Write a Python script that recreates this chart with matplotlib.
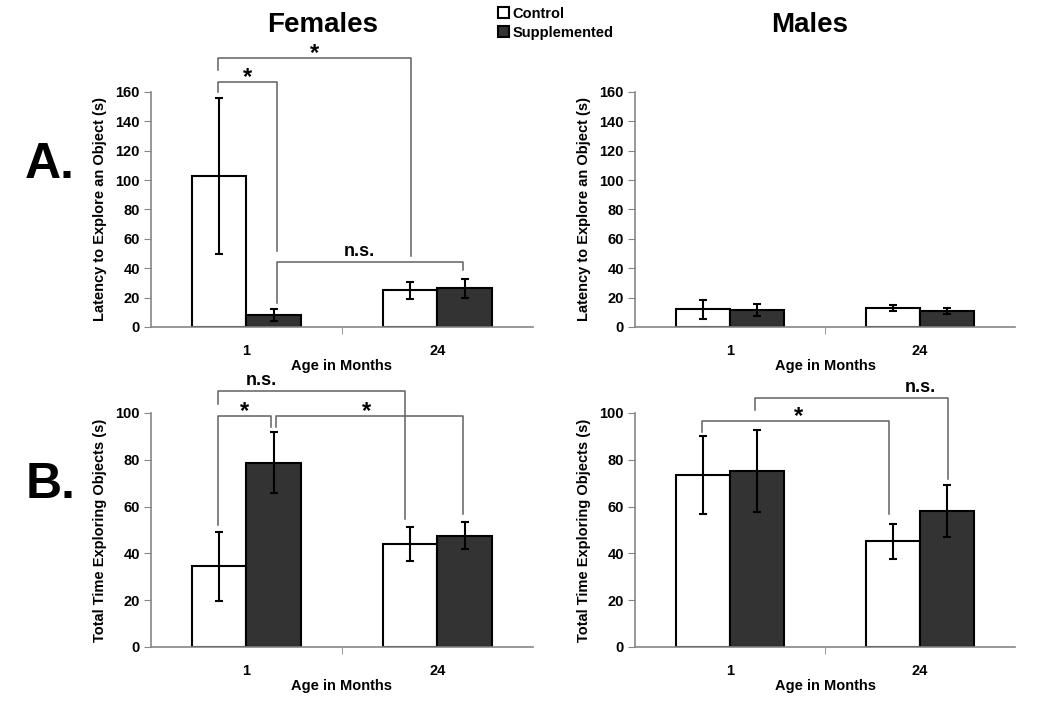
import matplotlib
matplotlib.use('Agg')
import matplotlib.pyplot as plt
from matplotlib.patches import Patch

plt.rcParams['font.family'] = ['Liberation Sans', 'DejaVu Sans']
plt.rcParams['font.weight'] = 'bold'
plt.rcParams['axes.labelweight'] = 'bold'

# data
ages = ['1', '24']

fem_lat_ctrl = [103, 25]
fem_lat_ctrl_err = [53, 5.7]
fem_lat_supp = [8, 26.4]
fem_lat_supp_err = [4, 6.6]

male_lat_ctrl = [11.9, 13]
male_lat_ctrl_err = [6.6, 2.3]
male_lat_supp = [11.4, 10.9]
male_lat_supp_err = [4, 2.2]

fem_tot_ctrl = [34.4, 44]
fem_tot_ctrl_err = [14.7, 7.3]
fem_tot_supp = [78.8, 47.6]
fem_tot_supp_err = [13, 5.7]

male_tot_ctrl = [73.5, 45.2]
male_tot_ctrl_err = [16.5, 7.5]
male_tot_supp = [75.2, 58.3]
male_tot_supp_err = [17.4, 11.1]

# significance brackets: (x left, x right, top, left leg end, right leg end, label, label x)
fem_lat_brackets = [
    (-0.149, 0.16, 167, 160, 52, '*', 0.005),
    (-0.149, 0.86, 183, 175, 48, '*', 0.355),
    (0.16, 1.133, 44, 16, 38.7, 'n.s.', 0.59),
]
fem_tot_brackets = [
    (-0.149, 0.83, 109.2, 104, 54.5, 'n.s.', 0.08),
    (-0.149, 0.128, 98.7, 52, 94, '*', -0.01),
    (0.154, 1.133, 98.7, 94, 57, '*', 0.63),
]
male_tot_brackets = [
    (-0.146, 0.838, 96.7, 91.7, 56.9, '*', 0.36),
    (0.132, 1.146, 106.4, 101.4, 71.8, 'n.s.', 1.0),
]

fig = plt.figure(figsize=(10.5, 7.18), dpi=100)
ax_fl = fig.add_axes([0.1438, 0.5446, 0.3638, 0.3273])
ax_ml = fig.add_axes([0.6048, 0.5446, 0.362, 0.3273])
ax_ft = fig.add_axes([0.1438, 0.0989, 0.3638, 0.3259])
ax_mt = fig.add_axes([0.6048, 0.0989, 0.362, 0.3259])

w = 0.283
x = [0, 1]


def draw_panel(ax, ctrl, ctrl_err, supp, supp_err, ymax, ylabel, brackets):
    xc = [i - w / 2 for i in x]
    xs = [i + w / 2 for i in x]
    ekw = dict(elinewidth=1.5, capthick=1.5, capsize=3, ecolor='black')
    ax.bar(xc, ctrl, w, color='white', edgecolor='black', linewidth=1.5,
           yerr=ctrl_err, error_kw=ekw, zorder=2)
    ax.bar(xs, supp, w, color='#333333', edgecolor='black', linewidth=1.5,
           yerr=supp_err, error_kw=ekw, zorder=2)
    ax.set_xlim(-0.5, 1.5)
    ax.set_ylim(0, ymax)
    ax.set_yticks(range(0, ymax + 1, 20))
    ax.set_xticks(x)
    ax.set_xticklabels(ages)
    ax.set_xticks([0.5], minor=True)
    ax.tick_params(axis='x', which='major', length=0, pad=12, labelsize=10.5)
    ax.tick_params(axis='x', which='minor', length=5, color='#868686')
    ax.tick_params(axis='y', length=5, color='#868686', labelsize=10.5, pad=3)
    for s in ['top', 'right']:
        ax.spines[s].set_visible(False)
    for s in ['left', 'bottom']:
        ax.spines[s].set_color('#868686')
        ax.spines[s].set_linewidth(1.2)
    ax.set_ylabel(ylabel, fontsize=10.5, labelpad=6)
    ax.set_xlabel('Age in Months', fontsize=10.5, labelpad=1)
    for x1, x2, top, y1, y2, lab, lx in brackets:
        ax.plot([x1, x1, x2, x2], [y1, top, top, y2], color='#606060',
                lw=1.1, clip_on=False, zorder=3)
        if lab == '*':
            ax.annotate(lab, (lx, top), xytext=(0, -5), textcoords='offset points',
                        ha='center', va='bottom', fontsize=17, annotation_clip=False)
        else:
            ax.annotate(lab, (lx, top), xytext=(0, 1.5), textcoords='offset points',
                        ha='center', va='bottom', fontsize=13, annotation_clip=False)


draw_panel(ax_fl, fem_lat_ctrl, fem_lat_ctrl_err, fem_lat_supp, fem_lat_supp_err,
           160, 'Latency to Explore an Object (s)', fem_lat_brackets)
draw_panel(ax_ml, male_lat_ctrl, male_lat_ctrl_err, male_lat_supp, male_lat_supp_err,
           160, 'Latency to Explore an Object (s)', [])
draw_panel(ax_ft, fem_tot_ctrl, fem_tot_ctrl_err, fem_tot_supp, fem_tot_supp_err,
           100, 'Total Time Exploring Objects (s)', fem_tot_brackets)
draw_panel(ax_mt, male_tot_ctrl, male_tot_ctrl_err, male_tot_supp, male_tot_supp_err,
           100, 'Total Time Exploring Objects (s)', male_tot_brackets)

fig.text(0.3076, 0.965, 'Females', ha='center', va='center', fontsize=20)
fig.text(0.771, 0.965, 'Males', ha='center', va='center', fontsize=20)
fig.text(0.024, 0.77, 'A.', ha='left', va='center', fontsize=36)
fig.text(0.024, 0.325, 'B.', ha='left', va='center', fontsize=36)

handles = [Patch(facecolor='white', edgecolor='black', linewidth=1.5, label='Control'),
           Patch(facecolor='#333333', edgecolor='black', linewidth=1.5, label='Supplemented')]
fig.legend(handles=handles, loc='upper left', bbox_to_anchor=(0.465, 1.005),
           frameon=False, fontsize=10.5, handlelength=0.75, handleheight=0.75,
           handletextpad=0.2, labelspacing=0.35, borderpad=0.2)

fig.savefig('out.png', dpi=100)
